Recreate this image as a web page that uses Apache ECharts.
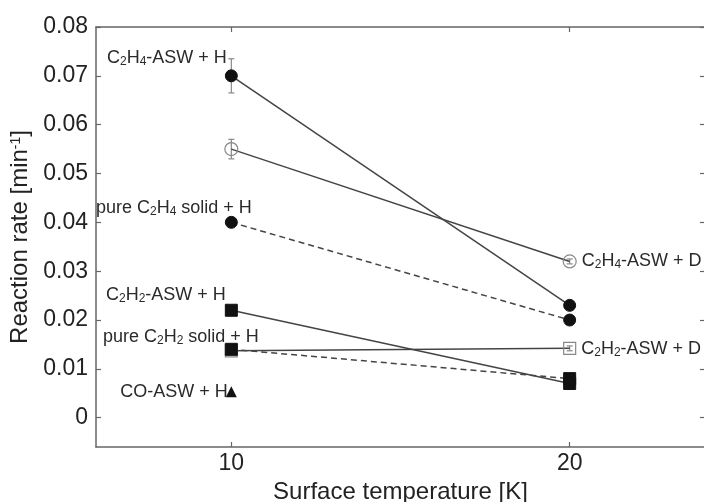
<!DOCTYPE html>
<html>
<head>
<meta charset="utf-8">
<script src="https://cdn.jsdelivr.net/npm/echarts@6/dist/echarts.min.js"></script>
<style>
  html, body { margin: 0; padding: 0; background: #fff; }
  #chart { width: 704px; height: 502px; }
</style>
</head>
<body>
<div id="chart"></div>
<script>
// temperatures [K]
const temps = [10, 20]
const xTicks = [10, 20]
const yTicks = [0, 0.01, 0.02, 0.03, 0.04, 0.05, 0.06, 0.07, 0.08]

// reaction rates [min-1] at 10 K and 20 K
const c2h4AswH = [0.070, 0.023]
const c2h4AswD = [0.055, 0.032]
const c2h4PureH = [0.040, 0.020]
const c2h2AswH = [0.022, 0.007]
const c2h2AswD = [0.0137, 0.0142]
const c2h2PureH = [0.014, 0.008]
const coAswH = [0.0053]

// error bars: x, low, high
const errX = [10, 10, 20, 20]
const errLow = [0.0665, 0.053, 0.0315, 0.0137]
const errHigh = [0.0735, 0.057, 0.0325, 0.0147]

// labels (rich text, m = normal, s = subscript)
const txtC2H4AswH = '{m|C}{s|2}{m|H}{s|4}{m|-ASW + H}'
const txtC2H4AswD = '{m|C}{s|2}{m|H}{s|4}{m|-ASW + D}'
const txtC2H4PureH = '{m|pure C}{s|2}{m|H}{s|4}{m| solid + H}'
const txtC2H2AswH = '{m|C}{s|2}{m|H}{s|2}{m|-ASW + H}'
const txtC2H2AswD = '{m|C}{s|2}{m|H}{s|2}{m|-ASW + D}'
const txtC2H2PureH = '{m|pure C}{s|2}{m|H}{s|2}{m| solid + H}'
const txtCoAswH = '{m|CO-ASW + H}'

const font = 'Liberation Sans, Arial, Helvetica, sans-serif'
const rich = {
    m: {fontSize: 18, color: '#2a2a2a', fontFamily: font},
    s: {fontSize: 12, color: '#2a2a2a', fontFamily: font, padding: [7, 0, 0, 0]},
}

const mkLine = (vals, symbol, size, style, labelIdx, text, pos, offset) => ({
    type: 'line',
    xAxisIndex: 0,
    yAxisIndex: 0,
    symbol: symbol,
    symbolSize: size,
    z: 3,
    lineStyle: {color: '#444', width: 1.5, type: style.dash ? [6, 4] : 'solid'},
    itemStyle: style.hollow
        ? {color: 'rgba(0,0,0,0)', borderColor: '#888', borderWidth: 1.2}
        : {color: '#111', borderColor: '#111', borderWidth: 1},
    emphasis: {disabled: true},
    data: vals.map((v, i) => ({
        value: [temps[i], v],
        label: i === labelIdx
            ? {show: true, formatter: text, position: pos, distance: 5, offset: offset, rich: rich}
            : {show: false},
    })),
})

const chart = echarts.init(document.getElementById('chart'))

const axisLine = {show: true, onZero: false, lineStyle: {color: '#666', width: 1.5}}
const tick = {show: true, inside: true, length: 5, lineStyle: {color: '#666', width: 1.2}}

chart.setOption({
    animation: false,
    grid: {left: 96, top: 27, right: -1, bottom: 55, outerBoundsMode: 'none', containLabel: false},
    xAxis: [
        {
            type: 'value', min: 6, max: 24,
            axisLine: axisLine,
            axisTick: Object.assign({}, tick, {customValues: xTicks}),
            axisLabel: {customValues: xTicks, margin: 5, fontSize: 23, color: '#222', fontFamily: font},
            splitLine: {show: false},
            name: 'Surface temperature [K]',
            nameLocation: 'middle',
            nameGap: 33,
            nameTextStyle: {fontSize: 24, color: '#222', fontFamily: font},
        },
        {
            type: 'value', min: 6, max: 24, position: 'top',
            axisLine: axisLine,
            axisTick: Object.assign({}, tick, {customValues: xTicks}),
            axisLabel: {show: false},
            splitLine: {show: false},
        },
    ],
    yAxis: [
        {
            type: 'value', min: -0.006, max: 0.08,
            axisLine: axisLine,
            axisTick: Object.assign({}, tick, {customValues: yTicks}),
            axisLabel: {
                customValues: yTicks, margin: 8, fontSize: 23, color: '#222', fontFamily: font,
                formatter: v => (Math.abs(v) < 1e-9 ? '0' : v.toFixed(2)),
            },
            splitLine: {show: false},
            name: '{n|Reaction rate [min}{p|-1}{n|]}',
            nameLocation: 'middle',
            nameGap: 57,
            nameTextStyle: {
                rich: {
                    n: {fontSize: 24, color: '#222', fontFamily: font},
                    p: {fontSize: 14, color: '#222', fontFamily: font, padding: [0, 0, 9, 0]},
                },
            },
        },
        {
            type: 'value', min: -0.006, max: 0.08, position: 'right',
            axisLine: axisLine,
            axisTick: Object.assign({}, tick, {customValues: yTicks}),
            axisLabel: {show: false},
            splitLine: {show: false},
        },
    ],
    series: [
        {
            type: 'custom',
            xAxisIndex: 0,
            yAxisIndex: 0,
            z: 2,
            silent: true,
            data: errX.map((x, i) => [x, errLow[i], errHigh[i]]),
            renderItem: (params, api) => {
                const lo = api.coord([api.value(0), api.value(1)])
                const hi = api.coord([api.value(0), api.value(2)])
                const w = 3
                const st = {stroke: '#888', lineWidth: 1.2}
                return {
                    type: 'group',
                    children: [
                        {type: 'line', shape: {x1: lo[0], y1: lo[1], x2: hi[0], y2: hi[1]}, style: st},
                        {type: 'line', shape: {x1: lo[0] - w, y1: lo[1], x2: lo[0] + w, y2: lo[1]}, style: st},
                        {type: 'line', shape: {x1: hi[0] - w, y1: hi[1], x2: hi[0] + w, y2: hi[1]}, style: st},
                    ],
                }
            },
        },
        mkLine(c2h4AswD, 'circle', 13, {hollow: true}, 1, txtC2H4AswD, 'right', [0, 0]),
        mkLine(c2h2AswD, 'rect', 12, {hollow: true}, 1, txtC2H2AswD, 'right', [0, 1]),
        mkLine(c2h4AswH, 'circle', 12, {}, 0, txtC2H4AswH, 'left', [7, -18]),
        mkLine(c2h4PureH, 'circle', 12, {dash: true}, 0, txtC2H4PureH, 'left', [32, -14]),
        mkLine(c2h2AswH, 'rect', 12, {}, 0, txtC2H2AswH, 'left', [6, -15]),
        mkLine(c2h2PureH, 'rect', 12, {dash: true}, 0, txtC2H2PureH, 'left', [39, -12]),
        {
            type: 'scatter',
            xAxisIndex: 0,
            yAxisIndex: 0,
            symbol: 'triangle',
            symbolSize: 11,
            itemStyle: {color: '#111', opacity: 1},
            emphasis: {disabled: true},
            label: {show: true, formatter: txtCoAswH, position: 'left', distance: 5, offset: [7, 0], rich: rich},
            data: coAswH.map((v, i) => [temps[i], v]),
        },
    ],
})
</script>
</body>
</html>
